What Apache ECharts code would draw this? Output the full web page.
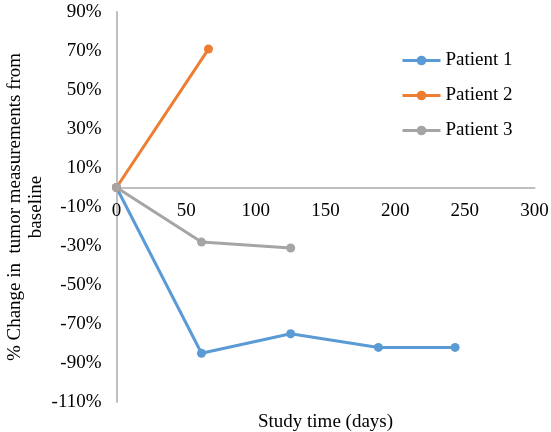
<!DOCTYPE html>
<html>
<head>
<meta charset="utf-8">
<script src="https://cdn.jsdelivr.net/npm/echarts@6/dist/echarts.min.js"></script>
<style>html,body{margin:0;padding:0;background:#fff;}#c{width:551px;height:432px;}</style>
</head>
<body>
<div id="c"></div>
<script>
const seriesNames = ['Patient 1', 'Patient 2', 'Patient 3'];
const patient1 = [[0, 0], [61, -85], [125, -75], [188, -82], [243, -82]];
const patient2 = [[0, 0], [66, 71]];
const patient3 = [[0, 0], [61, -28], [125, -31]];
const xTicks = [0, 50, 100, 150, 200, 250, 300];
const yTicks = [-110, -90, -70, -50, -30, -10, 10, 30, 50, 70, 90];
const colors = ['#5B9BD5', '#ED7D31', '#A5A5A5'];
const font = "'Liberation Serif','Times New Roman',serif";

const gridTop = 12, gridBottom = 30, H = 432;
const yMin = -110, yMax = 90;
const plotH = H - gridTop - gridBottom;
const zeroOffset = -plotH * (0 - yMin) / (yMax - yMin);

const chart = echarts.init(document.getElementById('c'));
const mk = (name, data, color) => ({
  name, type: 'line', data, color,
  symbol: 'circle', symbolSize: 9,
  lineStyle: { width: 3, color },
  itemStyle: { color },
  z: 3
});
chart.setOption({
  animation: false,
  textStyle: { fontFamily: font },
  grid: { left: 116.5, right: 16.5, top: gridTop, bottom: gridBottom, containLabel: false, outerBoundsMode: 'none' },
  legend: {
    orient: 'vertical', left: 396, top: 46, itemGap: 16,
    itemWidth: 38, itemHeight: 12,
    lineStyle: { width: 3 },
    textStyle: { fontFamily: font, fontSize: 19, color: '#000' },
    data: seriesNames
  },
  xAxis: {
    type: 'value', min: xTicks[0], max: xTicks[xTicks.length - 1], interval: 50,
    position: 'bottom', offset: zeroOffset,
    axisLine: { onZero: false, lineStyle: { color: '#BFBFBF', width: 2 } },
    axisTick: { show: false },
    splitLine: { show: false },
    axisLabel: { fontFamily: font, fontSize: 19, color: '#000', margin: 14 },
    name: 'Study time (days)', nameLocation: 'middle', nameGap: 225, nameMoveOverlap: false,
    nameTextStyle: { fontFamily: font, fontSize: 19, color: '#000' }
  },
  yAxis: {
    type: 'value', min: yMin, max: yMax, interval: 10,
    axisLine: { show: true, onZero: false, lineStyle: { color: '#BFBFBF', width: 2 } },
    axisTick: { show: false },
    splitLine: { show: false },
    axisLabel: {
      fontFamily: font, fontSize: 19, color: '#000', margin: 15,
      formatter: v => yTicks.includes(Math.round(v)) ? Math.round(v) + '%' : ''
    },
    name: '% Change in  tumor measurements from\nbaseline',
    nameLocation: 'middle', nameRotate: 90, nameGap: 70, nameMoveOverlap: false,
    nameTextStyle: { fontFamily: font, fontSize: 19, color: '#000', lineHeight: 21, align: 'center' }
  },
  series: [
    mk(seriesNames[0], patient1, colors[0]),
    mk(seriesNames[1], patient2, colors[1]),
    mk(seriesNames[2], patient3, colors[2])
  ]
});
</script>
</body>
</html>
